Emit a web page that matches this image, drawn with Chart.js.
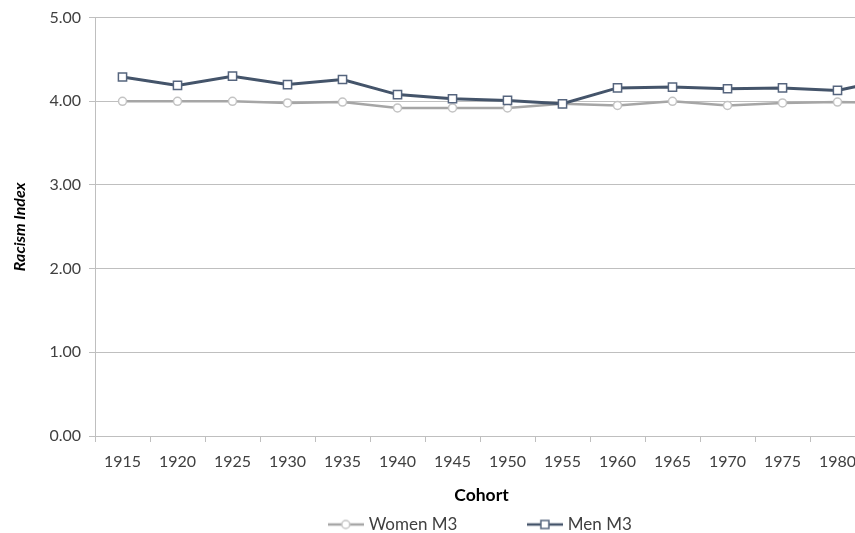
<!DOCTYPE html>
<html>
<head>
<meta charset="utf-8">
<script src="https://cdn.jsdelivr.net/npm/chart.js@4.4.1/dist/chart.umd.min.js"></script>
<style>
  html, body { margin: 0; padding: 0; background: #fff; overflow: hidden; }
  /* the source figure is cut off on the right, so the chart is wider than the window */
  #wrap { width: 960px; height: 533px; }
</style>
</head>
<body>
<div id="wrap"><canvas id="racismChart"></canvas></div>
<script>
// values (1985 is only partly visible at the right edge)
const cohorts = ['1915', '1920', '1925', '1930', '1935', '1940', '1945', '1950',
                 '1955', '1960', '1965', '1970', '1975', '1980', '1985'];
const womenM3 = [4.00, 4.00, 4.00, 3.98, 3.99, 3.92, 3.92, 3.92,
                 3.97, 3.95, 4.00, 3.95, 3.98, 3.99, 3.98];
const menM3 = [4.29, 4.19, 4.30, 4.20, 4.26, 4.08, 4.03, 4.01,
               3.97, 4.16, 4.17, 4.15, 4.16, 4.13, 4.27];
const yTicks = [0, 1, 2, 3, 4, 5];

const textColor = '#404040';
const gridColor = '#BFBFBF';
const womenLine = '#A6A6A6';
const womenMarker = '#C4C4C4';
const menLine = '#44546A';
const menMarker = '#56657E';

// Excel style legend key: short line with the marker on it
function legendKey(lineColor, markerColor, shape) {
    const c = document.createElement('canvas');
    c.width = 36;
    c.height = 12;
    const g = c.getContext('2d');
    g.strokeStyle = lineColor;
    g.lineWidth = 2.5;
    g.beginPath();
    g.moveTo(0, 6);
    g.lineTo(36, 6);
    g.stroke();
    g.fillStyle = '#fff';
    g.strokeStyle = markerColor;
    g.lineWidth = 1.5;
    g.beginPath();
    if (shape === 'circle') g.arc(18, 6, 4, 0, Math.PI * 2);
    else g.rect(14, 2, 8, 8);
    g.fill();
    g.stroke();
    return c;
}
const blankKey = document.createElement('canvas');
blankKey.width = 1;
blankKey.height = 1;

const ctx = document.getElementById('racismChart').getContext('2d');
new Chart(ctx, {
    type: 'line',
    data: {
        labels: cohorts,
        datasets: [{
            label: 'Women M3',
            data: womenM3,
            order: 1,
            borderColor: womenLine,
            borderWidth: 2.5,
            pointStyle: 'circle',
            pointRadius: 4,
            pointBorderWidth: 1.5,
            pointBackgroundColor: '#fff',
            pointBorderColor: womenMarker,
            tension: 0
        }, {
            label: 'Men M3',
            data: menM3,
            order: 0,
            borderColor: menLine,
            borderWidth: 3,
            pointStyle: 'rect',
            pointRadius: 5.8,
            pointBorderWidth: 1.5,
            pointBackgroundColor: '#fff',
            pointBorderColor: menMarker,
            tension: 0
        }]
    },
    options: {
        responsive: true,
        maintainAspectRatio: false,
        animation: false,
        // left padding moves the centre of the bottom title/legend to the right
        layout: { padding: { top: 16, right: 40, bottom: -10, left: 43 } },
        scales: {
            x: {
                offset: true,
                afterFit: s => { s.height = 42; },
                grid: { offset: true, drawOnChartArea: false, color: gridColor, tickLength: 6 },
                border: { color: gridColor },
                ticks: { color: textColor, font: { family: 'Lato', size: 16 }, padding: 10, maxRotation: 0, autoSkip: false }
            },
            y: {
                min: 0,
                max: 5,
                afterFit: s => { s.width = 52; },
                afterBuildTicks: s => { s.ticks = yTicks.map(v => ({ value: v })); },
                grid: { color: gridColor, tickLength: 6 },
                border: { color: gridColor },
                ticks: { color: textColor, font: { family: 'Lato', size: 16 }, padding: 8, callback: v => v.toFixed(2) },
                title: {
                    display: true,
                    text: 'Racism Index',
                    color: '#000',
                    font: { family: 'Lato', size: 16, weight: 'bold', style: 'italic' },
                    padding: { top: -32.6, bottom: 0 }
                }
            }
        },
        plugins: {
            tooltip: { enabled: false },
            title: {
                display: true,
                text: 'Cohort',
                position: 'bottom',
                weight: 500,
                color: '#000',
                font: { family: 'Lato', size: 17.5, weight: 'bold' },
                padding: { top: 7, bottom: 1 }
            },
            legend: {
                position: 'bottom',
                labels: {
                    usePointStyle: true,
                    pointStyleWidth: 29,
                    padding: 9,
                    color: textColor,
                    font: { family: 'Lato', size: 17 },
                    generateLabels: chart => {
                        const items = Chart.defaults.plugins.legend.labels.generateLabels(chart);
                        const women = items.find(i => i.datasetIndex === 0);
                        const men = items.find(i => i.datasetIndex === 1);
                        women.pointStyle = legendKey(womenLine, womenMarker, 'circle');
                        men.pointStyle = legendKey(menLine, menMarker, 'rect');
                        // blank entry to get Excel's wide gap between the two keys
                        const gap = { text: '    ', pointStyle: blankKey, fillStyle: 'transparent',
                                      strokeStyle: 'transparent', lineWidth: 0, hidden: false };
                        return [women, gap, men];
                    }
                }
            }
        }
    }
});
</script>
</body>
</html>
